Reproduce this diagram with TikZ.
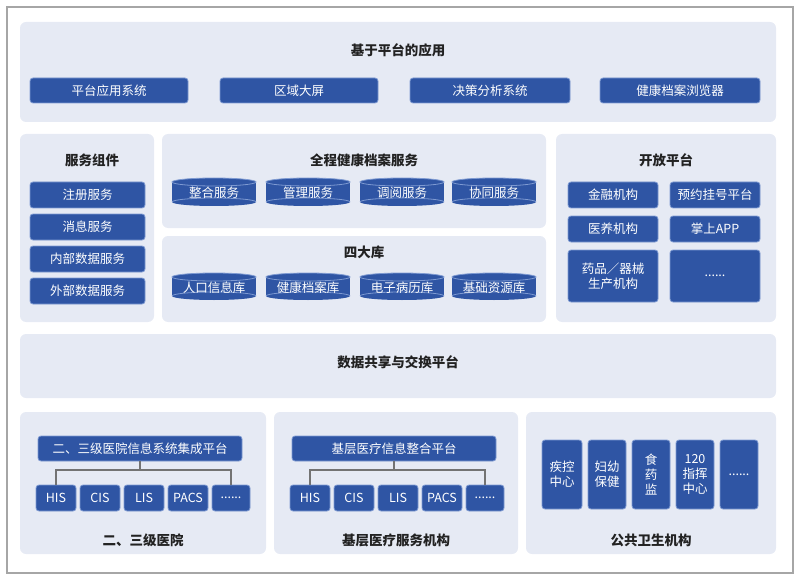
\documentclass[tikz,border=0pt]{standalone}
\usepackage{fontspec}
\newfontfamily\cjk{Noto Sans CJK SC}
\definecolor{panel}{HTML}{E6EAF4}
\definecolor{bx}{HTML}{2F55A4}
\definecolor{bxl}{HTML}{7E9AD2}
\definecolor{ttl}{HTML}{222222}
\begin{document}
\begin{tikzpicture}[x=1pt,y=-1pt,font=\cjk,
  pnl/.style={fill=panel,rounded corners=6pt},
  bb/.style={fill=bx,draw=bxl,line width=0.8pt,rounded corners=3pt,text=white,font=\cjk\fontsize{12.5}{15}\selectfont,align=center},
  tt/.style={font=\cjk\bfseries\fontsize{13.5}{16}\selectfont,text=ttl},
  ln/.style={draw=gray!90!black,line width=1.4pt}]
\useasboundingbox (0,0) rectangle (800,580);
\draw[gray!70,line width=1.5pt] (7,7) rectangle (793,573);
\newcommand\bxx[6]{\node[bb,minimum width=#3-#2,minimum height=#5-#4,inner sep=1pt] (#1) at ({(#2+#3)/2},{(#4+#5)/2}) {#6};}
\newcommand\cyl[6]{\fill[bx] (#2,#4) rectangle (#3,#5);
 \fill[bx] ({(#2+#3)/2},#5) ellipse ({(#3-#2)/2} and 4);
 \draw[bxl,line width=0.8pt] ({(#2+#3)/2},#5) ++(-{(#3-#2)/2},0) arc[start angle=180,end angle=360,x radius={(#3-#2)/2},y radius=4];
 \fill[bx] ({(#2+#3)/2},#4) ellipse ({(#3-#2)/2} and 4);
 \draw[bxl,line width=0.8pt] ({(#2+#3)/2},#4) ellipse ({(#3-#2)/2} and 4);
 \node[text=white,font=\cjk\fontsize{12.5}{15}\selectfont] (#1) at ({(#2+#3)/2},{(#4+#5)/2+1}) {#6};}
% top
\fill[pnl] (20,22) rectangle (776,122);
\node[tt] (t1) at (398,50) {基于平台的应用};
\bxx{a1}{30}{188}{78}{103}{平台应用系统}
\bxx{a2}{220}{378}{78}{103}{区域大屏}
\bxx{a3}{410}{570}{78}{103}{决策分析系统}
\bxx{a4}{600}{760}{78}{103}{健康档案浏览器}
% left
\fill[pnl] (20,134) rectangle (154,322);
\node[tt] (t2) at (92,160) {服务组件};
\bxx{s1}{30}{145}{182}{208}{注册服务}
\bxx{s2}{30}{145}{214}{240}{消息服务}
\bxx{s3}{30}{145}{246}{272}{内部数据服务}
\bxx{s4}{30}{145}{278}{304}{外部数据服务}
% middle
\fill[pnl] (162,134) rectangle (546,228);
\node[tt] (t3) at (364,160) {全程健康档案服务};
\cyl{c1}{172}{256}{182}{202}{整合服务}
\cyl{c2}{266}{350}{182}{202}{管理服务}
\cyl{c3}{360}{444}{182}{202}{调阅服务}
\cyl{c4}{452}{536}{182}{202}{协同服务}
\fill[pnl] (162,236) rectangle (546,322);
\node[tt] (t4) at (364,252) {四大库};
\cyl{d1}{172}{256}{277}{296}{人口信息库}
\cyl{d2}{266}{350}{277}{296}{健康档案库}
\cyl{d3}{360}{444}{277}{296}{电子病历库}
\cyl{d4}{452}{536}{277}{296}{基础资源库}
% right
\fill[pnl] (556,134) rectangle (776,322);
\node[tt] (t5) at (666,160) {开放平台};
\bxx{o1}{568}{658}{182}{208}{金融机构}
\bxx{o2}{670}{760}{182}{208}{预约挂号平台}
\bxx{o3}{568}{658}{216}{242}{医养机构}
\bxx{o4}{670}{760}{216}{242}{掌上APP}
\bxx{o5}{568}{658}{250}{302}{药品／器械\\生产机构}
\bxx{o6}{670}{760}{250}{302}{......}
% data
\fill[pnl] (20,334) rectangle (776,398);
\node[tt] (t6) at (398,362) {数据共享与交换平台};
% bottom
\fill[pnl] (20,412) rectangle (266,554);
\fill[pnl] (274,412) rectangle (518,554);
\fill[pnl] (526,412) rectangle (776,554);
\node[tt] (t7) at (143,540) {二、三级医院};
\node[tt] (t8) at (396,540) {基层医疗服务机构};
\node[tt] (t9) at (651,540) {公共卫生机构};
\bxx{h0}{38}{242}{436}{461}{二、三级医院信息系统集成平台}
\bxx{h1}{36}{76}{485}{511}{HIS}
\bxx{h2}{80}{120}{485}{511}{CIS}
\bxx{h3}{124}{164}{485}{511}{LIS}
\bxx{h4}{168}{208}{485}{511}{PACS}
\bxx{h5}{212}{250}{485}{511}{......}
\coordinate (hj) at (140,470);
\draw[ln] (h0.south) -- (hj);
\draw[ln] (h1.north) |- (hj) -| (h5.north);
\bxx{g0}{292}{496}{436}{461}{基层医疗信息整合平台}
\bxx{g1}{290}{330}{485}{511}{HIS}
\bxx{g2}{334}{374}{485}{511}{CIS}
\bxx{g3}{378}{418}{485}{511}{LIS}
\bxx{g4}{422}{462}{485}{511}{PACS}
\bxx{g5}{466}{504}{485}{511}{......}
\coordinate (gj) at (394,470);
\draw[ln] (g0.south) -- (gj);
\draw[ln] (g1.north) |- (gj) -| (g5.north);
\bxx{p1}{542}{582}{440}{509}{疾控\\中心}
\bxx{p2}{588}{626}{440}{509}{妇幼\\保健}
\bxx{p3}{632}{670}{440}{509}{食\\药\\监}
\bxx{p4}{676}{714}{440}{509}{120\\指挥\\中心}
\bxx{p5}{720}{758}{440}{509}{......}
\end{tikzpicture}
\end{document}
